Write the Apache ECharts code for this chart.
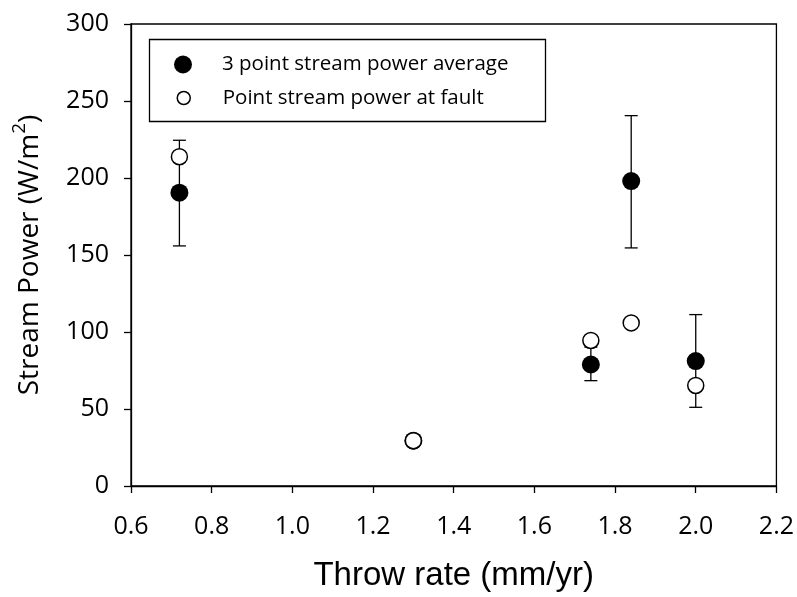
<!DOCTYPE html>
<html>
<head>
<meta charset="utf-8">
<script src="https://cdn.jsdelivr.net/npm/echarts@6/dist/echarts.min.js"></script>
<style>
html,body{margin:0;padding:0;background:#fff;}
#chart{width:797px;height:597px;}
</style>
</head>
<body>
<div id="chart"></div>
<script>
// Data
const throwRate   = [0.72, 1.30, 1.74, 1.84, 2.00];
const avgPower    = [190.5, 29.4, 78.9, 198.0, 81.1];
const avgLow      = [155.9, null, 68.4, 154.6, 51.1];
const avgHigh     = [224.5, null, 90.2, 240.5, 111.3];
const faultPower  = [213.8, 29.4, 94.5, 105.9, 65.3];
const seriesNames = ['3 point stream power average', 'Point stream power at fault'];
const xTitle = 'Throw rate (mm/yr)';

const avgData = throwRate.map((x, i) => [x, avgPower[i]]);
const faultData = throwRate.map((x, i) => [x, faultPower[i]]);
const errData = [];
throwRate.forEach((x, i) => { if (avgLow[i] != null) errData.push([x, avgLow[i], avgHigh[i]]); });

const chart = echarts.init(document.getElementById('chart'), null, {renderer: 'canvas'});
const lineStyle = {stroke: '#000', lineWidth: 1.3};

chart.setOption({
  animation: false,
  backgroundColor: '#fff',
  grid: {left: 131, right: 19, top: 24, bottom: 109, show: true, borderColor: '#000', borderWidth: 1.3, backgroundColor: 'transparent'},
  graphic: [{
    type: 'rect', left: 147, top: 37, shape: {width: 396, height: 82},
    style: {fill: 'none', stroke: '#000', lineWidth: 1.3}, z: 10
  }],
  legend: [
    {
      data: [seriesNames[0]], orient: 'vertical', left: 174, top: 54,
      itemWidth: 18, itemHeight: 18, icon: 'circle', padding: 0,
      textStyle: {fontFamily: 'Open Sans', fontSize: 20.5, color: '#000', padding: [0, 0, 0, 25]}
    },
    {
      data: [seriesNames[1]], orient: 'vertical', left: 176.5, top: 87.5,
      itemWidth: 13, itemHeight: 13, icon: 'circle', padding: 0,
      itemStyle: {color: '#fff', borderColor: '#000', borderWidth: 1.5},
      textStyle: {fontFamily: 'Open Sans', fontSize: 20.5, color: '#000', padding: [0, 0, 0, 27.5]}
    }
  ],
  xAxis: {
    type: 'value', min: 0.6, max: 2.2, interval: 0.2,
    name: xTitle, nameLocation: 'middle', nameGap: 73,
    nameTextStyle: {fontFamily: 'Liberation Sans', fontSize: 33, color: '#000'},
    axisLine: {show: true, lineStyle: {color: '#000', width: 1.3}},
    axisTick: {show: true, inside: false, length: 7, lineStyle: {color: '#000', width: 1.3}},
    axisLabel: {margin: 28, fontFamily: 'Open Sans', fontSize: 25, color: '#000', formatter: v => v.toFixed(1)},
    splitLine: {show: false}
  },
  yAxis: {
    type: 'value', min: 0, max: 300, interval: 50,
    name: '{a|Stream Power (W/m}{b|2}{a|)}', nameLocation: 'middle', nameGap: 87,
    nameTextStyle: {
      rich: {
        a: {fontFamily: 'Open Sans', fontSize: 28, color: '#000', lineHeight: 34, verticalAlign: 'bottom'},
        b: {fontFamily: 'Open Sans', fontSize: 19, color: '#000', lineHeight: 34, verticalAlign: 'top', padding: [0, 0, 14, 0]}
      }
    },
    axisLine: {show: true, lineStyle: {color: '#000', width: 1.3}},
    axisTick: {show: true, inside: false, length: 7, lineStyle: {color: '#000', width: 1.3}},
    axisLabel: {margin: 22, fontFamily: 'Open Sans', fontSize: 25, color: '#000'},
    splitLine: {show: false}
  },
  series: [
    {
      type: 'custom', name: 'err', data: errData, encode: {x: 0, y: [1, 2]}, z: 2,
      renderItem: function (params, api) {
        const x = api.value(0), lo = api.value(1), hi = api.value(2);
        const pLo = api.coord([x, lo]), pHi = api.coord([x, hi]);
        const hw = 6.5;
        return {type: 'group', children: [
          {type: 'line', shape: {x1: pLo[0], y1: pLo[1], x2: pHi[0], y2: pHi[1]}, style: lineStyle},
          {type: 'line', shape: {x1: pLo[0] - hw, y1: pLo[1], x2: pLo[0] + hw, y2: pLo[1]}, style: lineStyle},
          {type: 'line', shape: {x1: pHi[0] - hw, y1: pHi[1], x2: pHi[0] + hw, y2: pHi[1]}, style: lineStyle}
        ]};
      }
    },
    {
      type: 'scatter', name: seriesNames[0], data: avgData, symbol: 'circle', symbolSize: 18, z: 3,
      itemStyle: {color: '#000', borderColor: '#000', borderWidth: 0, opacity: 1}
    },
    {
      type: 'scatter', name: seriesNames[1], data: faultData, symbol: 'circle', symbolSize: 16, z: 4,
      itemStyle: {color: '#fff', borderColor: '#000', borderWidth: 1.5, opacity: 1}
    }
  ]
});
</script>
</body>
</html>
